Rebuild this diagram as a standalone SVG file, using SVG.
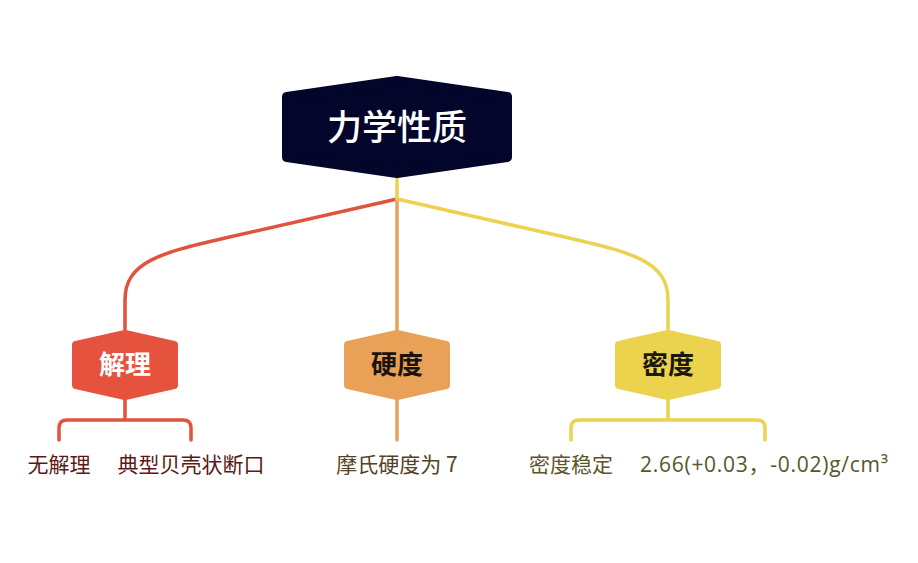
<svg xmlns="http://www.w3.org/2000/svg" width="918" height="563" viewBox="0 0 918 563">
<style>
.bg{fill:#ffffff}
.hex{stroke-linejoin:round}
.root{fill:#03052A;stroke:#03052A;stroke-width:10}
.red{fill:#E5533F;stroke:#E5533F;stroke-width:8}
.org{fill:#E9A057;stroke:#E9A057;stroke-width:8}
.yel{fill:#ECD34D;stroke:#ECD34D;stroke-width:8}
.ln{fill:none;stroke-width:3.5;stroke-linecap:round;stroke-linejoin:round}
.lr{stroke:#E0533F}
.lo{stroke:#E6A35E}
.ly{stroke:#EBD24F}
.t{font-family:"Noto Sans CJK SC","Noto Sans",sans-serif;text-anchor:middle}
.tr{fill:#ffffff;font-size:35px;font-weight:500}
.tc{font-size:26px;font-weight:700}
.tl{font-size:21px}
.num{font-family:"Open Sans","Noto Sans CJK SC",sans-serif}
</style>
<rect class="bg" x="0" y="0" width="918" height="563"/>
<g id="connectors">
<path class="ln lr" d="M397,199 L225,238 C160,253 125,262 125,300 L125,330"/>
<path class="ln ly" d="M397,199 L569,238 C634,253 668,262 668,300 L668,330"/>
<path class="ln lo" d="M397,199 L397,330"/>
<path class="ln ly" d="M397,176 L397,199"/>
<path class="ln lr" d="M125,398 L125,420 M59,440 L59,428 Q59,420 67,420 L183,420 Q191,420 191,428 L191,440"/>
<path class="ln lo" d="M397,398 L397,440"/>
<path class="ln ly" d="M668,398 L668,420 M571,440 L571,428 Q571,420 579,420 L757,420 Q765,420 765,428 L765,440"/>
</g>
<g id="node-root">
<polygon class="hex root" points="397,81 507,97 507,157 397,173 287,157 287,97"/>
<text class="t tr" x="397" y="140">力学性质</text>
</g>
<g id="node-jieli">
<polygon class="hex red" points="125,334 174,345 174,385 125,396 76,385 76,345"/>
<text class="t tc" x="125" y="374" fill="#ffffff">解理</text>
</g>
<g id="node-yingdu">
<polygon class="hex org" points="397,334 446,345 446,385 397,396 348,385 348,345"/>
<text class="t tc" x="397" y="374" fill="#1a1410">硬度</text>
</g>
<g id="node-midu">
<polygon class="hex yel" points="668,334 717,345 717,385 668,396 619,385 619,345"/>
<text class="t tc" x="668" y="374" fill="#1a1810">密度</text>
</g>
<g id="leaf-1"><text class="t tl" x="59" y="472" fill="#5B1A16">无解理</text></g>
<g id="leaf-2"><text class="t tl" x="191" y="472" fill="#5B1A16">典型贝壳状断口</text></g>
<g id="leaf-3"><text class="t tl" x="397" y="472" fill="#544226">摩氏硬度为 7</text></g>
<g id="leaf-4"><text class="t tl" x="571" y="472" fill="#5A5628">密度稳定</text></g>
<g id="leaf-5"><text class="t tl num" x="764" y="472" fill="#5A5628" textLength="248" lengthAdjust="spacing">2.66(+0.03，-0.02)g/cm³</text></g>
</svg>
